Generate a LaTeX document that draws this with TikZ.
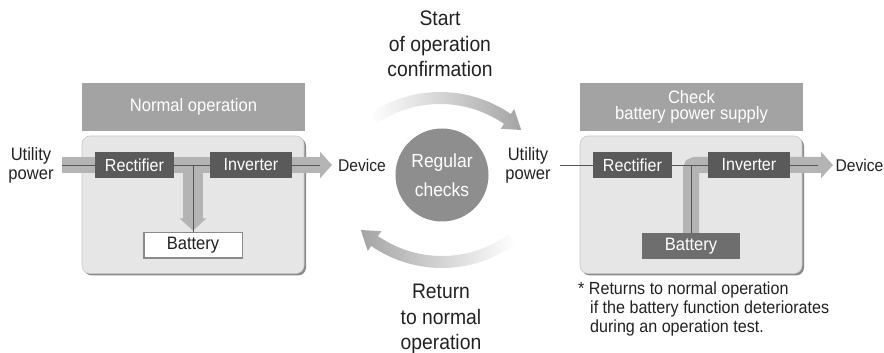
\documentclass[tikz,border=0pt]{standalone}
\usepackage{fontspec}
\setmainfont{Liberation Sans}[FakeStretch=0.92]
\usetikzlibrary{arrows.meta,calc,shadows}
\definecolor{hdr}{HTML}{A3A3A3}
\definecolor{panel}{HTML}{E6E6E6}
\definecolor{panelline}{HTML}{C8C8C8}
\definecolor{shadowc}{HTML}{8A8A8A}
\definecolor{darkbox}{HTML}{5A5A5A}
\definecolor{batdark}{HTML}{6E6E6E}
\definecolor{batborder}{HTML}{8A8A8A}
\definecolor{bandc}{HTML}{B4B4B4}
\definecolor{linec}{HTML}{555555}
\definecolor{circc}{HTML}{8E8E8E}
\definecolor{arcc}{HTML}{A4A4A4}
\definecolor{txt}{HTML}{222222}
\pgfdeclarelayer{bg}\pgfdeclarelayer{mid}\pgfsetlayers{bg,mid,main}
\begin{document}
\begin{tikzpicture}[x=1pt,y=1pt,
  lbl/.style={font=\fontsize{18}{19}\selectfont, text=txt, inner sep=0pt, align=center},
  devlbl/.style={font=\fontsize{17}{19}\selectfont, text=txt, inner sep=0pt},
  darkblk/.style={fill=darkbox, text=white, font=\fontsize{17.5}{19}\selectfont, inner sep=0pt, minimum width=79pt, minimum height=26pt},
  hdrbox/.style={fill=hdr, text=white, font=\fontsize{18}{15.5}\selectfont, inner sep=0pt, minimum width=223pt, minimum height=48pt, align=center},
  panelbox/.style={fill=panel, draw=panelline, line width=0.6pt, rounded corners=8pt, minimum width=222pt, minimum height=137.5pt, inner sep=0pt,
     drop shadow={shadow xshift=2pt,shadow yshift=-2pt,fill=shadowc,opacity=1}},
  band/.style={draw=bandc, line width=16pt},
  thinline/.style={draw=linec, line width=0.9pt},
  bandtip/.style={-{Triangle[width=26pt,length=12pt]}},
  caption/.style={font=\fontsize{21}{25.5}\selectfont, text=txt, align=center, inner sep=0pt}
]
\useasboundingbox (0,0) rectangle (884,353);

% ---------- panels ----------
\begin{pgfonlayer}{bg}
\node[panelbox] (pan1) at (193,148.25) {};
\node[panelbox] (pan2) at (691,148.25) {};
\end{pgfonlayer}

% ---------- left panel ----------
\node[hdrbox] (hdr1) at (193.5,246) {Normal operation};
\node[darkblk] (rect1) at (134.5,188) {Rectifier};
\node[darkblk, minimum width=82pt] (inv1) at (251,188) {Inverter};
\node[draw=batborder, line width=1.5pt, fill=white, text=txt, inner sep=0pt,
      minimum width=98.5pt, minimum height=25.5pt, font=\fontsize{18}{19}\selectfont] (bat1) at (193,107.5) {Battery};
\node[lbl] (up1) at (31,188) {Utility\\power};
\node[devlbl] (dev1) at (362,188) {Device};
\coordinate (b1s) at (62,188);
\coordinate (b1e) at (332,188);
\coordinate (b1m) at (320,188);
\coordinate (j1) at (193,188);
\begin{pgfonlayer}{mid}
\draw[band, bandtip] (b1s) -- (b1e);
\draw[band, line width=20pt, bandtip] (j1) -- ([yshift=1.5pt]bat1.north);
\draw[thinline] (b1s) -- (b1m);
\draw[thinline] (j1) -- (bat1.north);
\end{pgfonlayer}

% ---------- right panel ----------
\node[hdrbox] (hdr2) at (691.5,246) {Check\\battery power supply};
\node[darkblk] (rect2) at (632.5,188) {Rectifier};
\node[darkblk, minimum width=82pt] (inv2) at (749,188) {Inverter};
\node[fill=batdark, text=white, inner sep=0pt, minimum width=98pt, minimum height=26pt,
      font=\fontsize{18}{19}\selectfont] (bat2) at (691,107) {Battery};
\node[lbl] (up2) at (528,188) {Utility\\power};
\node[devlbl] (dev2) at (859.5,188) {Device};
\coordinate (b2s) at (560,188);
\coordinate (j2) at (691,188);
\coordinate (b2e) at (833,188);
\coordinate (b2m) at (818,188);
\begin{pgfonlayer}{mid}
\draw[band, rounded corners=4pt, bandtip] (bat2.north) -- (j2) -- (b2e);
\draw[thinline] (b2s) -- (b2m);
\draw[thinline] (j2) -- (bat2.north);
\end{pgfonlayer}

% ---------- centre ----------
\node[circle, fill=circc, minimum size=93pt, inner sep=0pt, text=white,
      font=\fontsize{19}{29}\selectfont, align=center] (reg) at (442,178) {Regular\\checks};
\coordinate (T) at (440,136);
\coordinate (B) at (442,210);
\shade[left color=white, right color=arcc]
  ($(T)+(124:125)$) arc[start angle=124, end angle=55.5, radius=125pt]
  -- ($(T)+(55.5:131)$) -- ($(T)+(47:119)$) -- ($(T)+(55.5:107)$) -- ($(T)+(55.5:113)$)
  arc[start angle=55.5, end angle=124, radius=113pt] -- cycle;
\shade[left color=arcc, right color=white]
  ($(B)+(306:125)$) arc[start angle=306, end angle=235.5, radius=125pt]
  -- ($(B)+(235.5:131)$) -- ($(B)+(227:119)$) -- ($(B)+(235.5:107)$) -- ($(B)+(235.5:113)$)
  arc[start angle=235.5, end angle=306, radius=113pt] -- cycle;
\node[caption] (cap1) at (440,309) {Start\\of operation\\confirmation};
\node[caption] (cap2) at (441,34) {Return\\to normal\\operation};

% ---------- footnote ----------
\node[font=\fontsize{17.5}{19}\selectfont, align=left, anchor=north west, inner sep=0pt, text=txt] (note) at (578,71)
  {* Returns to normal operation\\\hspace*{12pt}if the battery function deteriorates\\\hspace*{12pt}during an operation test.};
\end{tikzpicture}
\end{document}
